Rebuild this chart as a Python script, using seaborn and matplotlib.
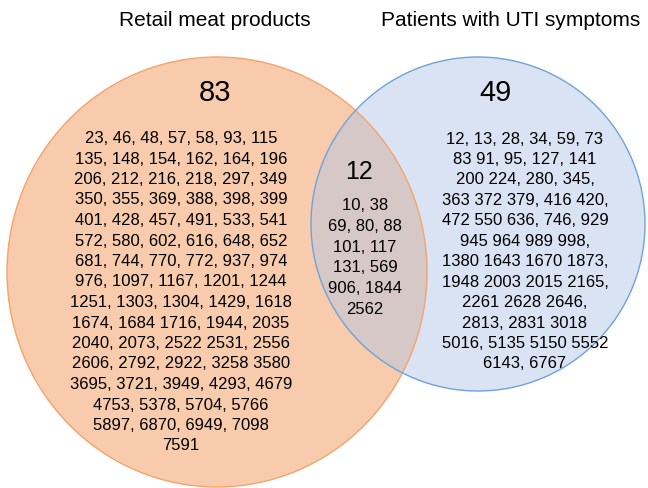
import matplotlib
matplotlib.use("Agg")
import matplotlib.pyplot as plt
from matplotlib.patches import Ellipse
import seaborn as sns

# set names and counts
set_names = ["Retail meat products", "Patients with UTI symptoms"]
only_counts = [83, 49]
shared_count = 12

# isolate IDs per region, one string per printed line
meat_only = [
    "23, 46, 48, 57, 58, 93, 115",
    "135, 148, 154, 162, 164, 196",
    "206, 212, 216, 218, 297, 349",
    "350, 355, 369, 388, 398, 399",
    "401, 428, 457, 491, 533, 541",
    "572, 580, 602, 616, 648, 652",
    "681, 744, 770, 772, 937, 974",
    "976, 1097, 1167, 1201, 1244",
    "1251, 1303, 1304, 1429, 1618",
    "1674, 1684 1716, 1944, 2035",
    "2040, 2073, 2522 2531, 2556",
    "2606, 2792, 2922, 3258 3580",
    "3695, 3721, 3949, 4293, 4679",
    "4753, 5378, 5704, 5766",
    "5897, 6870, 6949, 7098",
    "7591",
]
shared = [
    "10, 38",
    "69, 80, 88",
    "101, 117",
    "131, 569",
    "906, 1844",
    "2562",
]
uti_only = [
    "12, 13, 28, 34, 59, 73",
    "83 91, 95, 127, 141",
    "200 224, 280, 345,",
    "363 372 379, 416 420,",
    "472 550 636, 746, 929",
    "945 964 989 998,",
    "1380 1643 1670 1873,",
    "1948 2003 2015 2165,",
    "2261 2628 2646,",
    "2813, 2831 3018",
    "5016, 5135 5150 5552",
    "6143, 6767",
]

sns.set_theme(style="white")
plt.rcParams["font.family"] = ["Liberation Sans", "DejaVu Sans"]

W, H = 648, 489
fig = plt.figure(figsize=(W / 100, H / 100), dpi=100)
ax = fig.add_axes([0, 0, 1, 1])
ax.set_xlim(0, W)
ax.set_ylim(H, 0)
ax.axis("off")

# circles (pixel space)
ax.add_patch(Ellipse((217, 273), 2 * 210, 2 * 215, facecolor="#ED7D31", alpha=0.4,
                     edgecolor="none", zorder=1))
ax.add_patch(Ellipse((478, 225), 2 * 167, 2 * 167, facecolor="#B2C5E6", alpha=0.48,
                     edgecolor="none", zorder=2))
ax.add_patch(Ellipse((217, 273), 2 * 210, 2 * 215, facecolor="none",
                     edgecolor="#F4A46C", lw=1.0, zorder=3))
ax.add_patch(Ellipse((478, 225), 2 * 167, 2 * 167, facecolor="none",
                     edgecolor="#6FA3DA", lw=1.0, zorder=3))

# titles
ax.text(215, 21, set_names[0], ha="center", va="center", fontsize=15, color="black")
ax.text(511, 21, set_names[1], ha="center", va="center", fontsize=15, color="black")

# counts
ax.text(215, 93, str(only_counts[0]), ha="center", va="center", fontsize=21, color="black")
ax.text(496, 93, str(only_counts[1]), ha="center", va="center", fontsize=21, color="black")
ax.text(359, 172, str(shared_count), ha="center", va="center", fontsize=18, color="black")


def draw_block(lines, cx, y0, step):
    for i, line in enumerate(lines):
        ax.text(cx, y0 + i * step, line, ha="center", va="center",
                fontsize=12, color="black", zorder=5)


draw_block(meat_only, 181, 138.5, 20.5)
draw_block(shared, 365, 206, 20.6)
draw_block(uti_only, 525, 139, 20.45)

fig.savefig("out.png", dpi=100)
